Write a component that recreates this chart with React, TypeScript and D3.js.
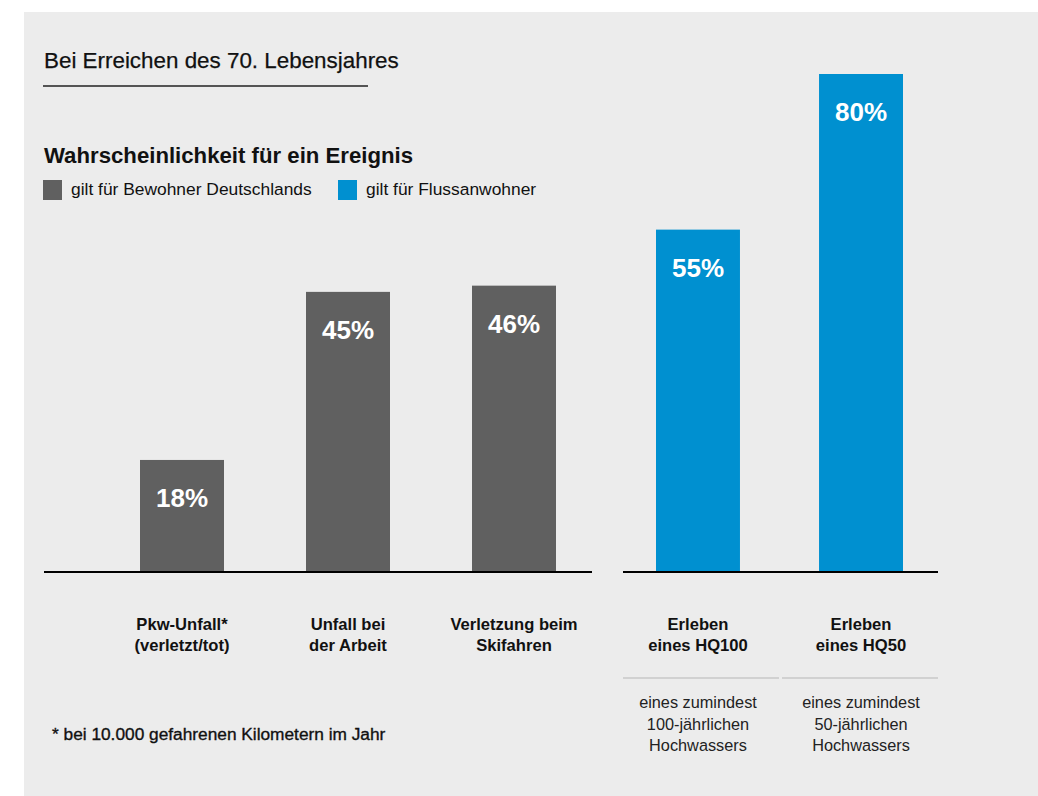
import React from "react";
import * as d3 from "d3";

const groupA = ["Pkw-Unfall*", "Unfall bei der Arbeit", "Verletzung beim Skifahren"];
const labelsA = [["Pkw-Unfall*", "(verletzt/tot)"], ["Unfall bei", "der Arbeit"], ["Verletzung beim", "Skifahren"]];
const valuesA = [18, 45, 46];
const groupB = ["Erleben eines HQ100", "Erleben eines HQ50"];
const labelsB = [["Erleben", "eines HQ100"], ["Erleben", "eines HQ50"]];
const subLabelsB = [["eines zumindest", "100-jährlichen", "Hochwassers"], ["eines zumindest", "50-jährlichen", "Hochwassers"]];
const valuesB = [55, 80];
const legendItems = ["gilt für Bewohner Deutschlands", "gilt für Flussanwohner"];

const GRAY = "#606060";
const BLUE = "#0090d0";
const FONT = "'Liberation Sans', Arial, Helvetica, sans-serif";

export default function App() {
  const W = 1038, H = 796;
  const baseY = 572;
  const y = d3.scaleLinear().domain([0, 80]).range([baseY, 74]);
  const xA = d3.scaleBand().domain(groupA).range([140, 556]).paddingInner(0.494).paddingOuter(0);
  const xB = d3.scaleBand().domain(groupB).range([656, 903]).paddingInner(0.485).paddingOuter(0);

  const bars = [
    ...groupA.map((c, i) => ({ key: c, x: xA(c)!, w: xA.bandwidth(), v: valuesA[i], color: GRAY, lines: labelsA[i], sub: null as string[] | null })),
    ...groupB.map((c, i) => ({ key: c, x: xB(c)!, w: xB.bandwidth(), v: valuesB[i], color: BLUE, lines: labelsB[i], sub: subLabelsB[i] })),
  ];

  return (
    <div style={{ position: "absolute", left: 0, top: 0 }}>
      <svg width={W} height={H} style={{ display: "block" }} fontFamily={FONT}>
        <rect x={0} y={0} width={W} height={H} fill="#ffffff" />
        <rect x={24} y={12} width={W - 24} height={H - 12} fill="#ececec" />
        <text x={44} y={68} fontSize={22.4} fill="#111" stroke="#111" strokeWidth={0.25}>Bei Erreichen des 70. Lebensjahres</text>
        <line x1={43} x2={368} y1={86} y2={86} stroke="#222" strokeWidth={1.5} />
        <text x={44} y={163} fontSize={22.2} fontWeight="bold" fill="#111">Wahrscheinlichkeit für ein Ereignis</text>
        <rect x={43} y={180} width={19} height={20} fill={GRAY} />
        <text x={71} y={195} fontSize={17.4} fill="#111">{legendItems[0]}</text>
        <rect x={338} y={180} width={19} height={20} fill={BLUE} />
        <text x={366} y={195} fontSize={17.4} fill="#111">{legendItems[1]}</text>

        {bars.map((b) => (
          <g key={b.key}>
            <rect x={b.x} y={y(b.v)} width={b.w} height={baseY - y(b.v)} fill={b.color} />
            <text x={b.x + b.w / 2} y={y(b.v) + 47} textAnchor="middle" fontSize={26} fontWeight="bold" fill="#fff">{b.v}%</text>
            {b.lines.map((l, j) => (
              <text key={j} x={b.x + b.w / 2} y={630 + j * 21} textAnchor="middle" fontSize={16.6} fontWeight="bold" fill="#111">{l}</text>
            ))}
            {b.sub && b.sub.map((l, j) => (
              <text key={"s" + j} x={b.x + b.w / 2} y={708 + j * 21.5} textAnchor="middle" fontSize={16.3} fill="#222">{l}</text>
            ))}
          </g>
        ))}

        <line x1={44} x2={592} y1={baseY} y2={baseY} stroke="#000" strokeWidth={2} />
        <line x1={623} x2={938} y1={baseY} y2={baseY} stroke="#000" strokeWidth={2} />
        <line x1={623} x2={779} y1={678} y2={678} stroke="#c8c8c8" strokeWidth={1.5} />
        <line x1={782} x2={938} y1={678} y2={678} stroke="#c8c8c8" strokeWidth={1.5} />

        <text x={52} y={740} fontSize={17.3} fill="#111" stroke="#111" strokeWidth={0.35}>* bei 10.000 gefahrenen Kilometern im Jahr</text>
      </svg>
    </div>
  );
}
